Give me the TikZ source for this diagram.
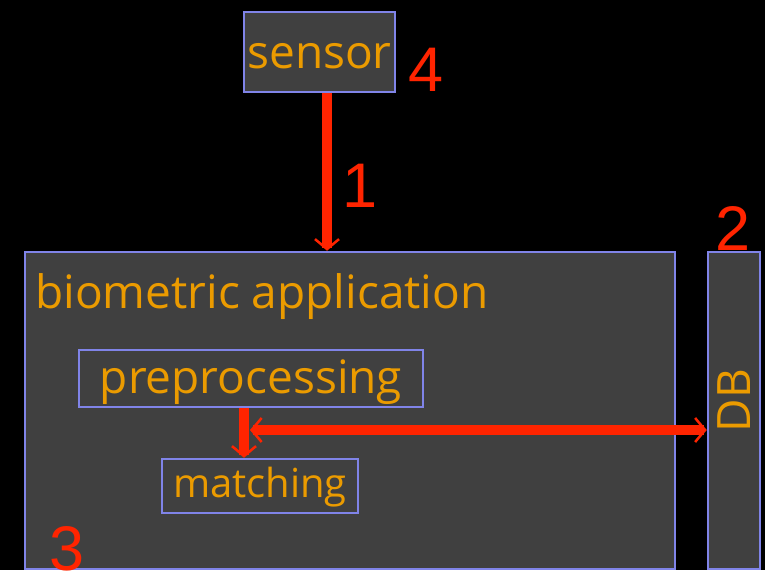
\documentclass[tikz,border=0pt]{standalone}
\usepackage{fontspec}
\setmainfont{Open Sans}
\newfontfamily\digitfont{Liberation Sans}
\usetikzlibrary{arrows.meta}

\definecolor{boxgray}{RGB}{64,64,64}
\definecolor{boxline}{RGB}{128,132,232}
\definecolor{txtorange}{RGB}{235,155,0}
\definecolor{flowred}{RGB}{255,36,0}

\tikzset{
    box/.style={draw=boxline, fill=boxgray, line width=2.5pt, text=txtorange, inner sep=0pt,
        font=\fontsize{46}{50}\selectfont, text height=37pt, text depth=8pt},
    title/.style={text=txtorange, inner sep=0pt, font=\fontsize{46}{50}\selectfont},
    flow/.style={draw=flowred, line width=10pt},
    barb/.tip={Straight Barb[length=10pt, width=24pt, line width=2.5pt]},
    num/.style={text=flowred, inner sep=0pt, font=\digitfont\fontsize{63}{66}\selectfont},
}

\begin{document}
\begin{tikzpicture}[x=1pt, y=-1pt]
    % --- sfondo nero ---
    \fill[black] (0,0) rectangle (765,570);
    \useasboundingbox (0,0) rectangle (765,570);

    % definizione dei blocchi
    \node[box, text height=40pt, minimum width=151pt, minimum height=80pt] (sensor) at (319.5,52) {sensor};
    \node[box, minimum width=650pt, minimum height=317pt] (app) at (350,410.5) {};
    \node[title, anchor=base west] (apptitle) at (35,308) {biometric application};
    \node[box, minimum width=344pt, minimum height=57pt] (prep) at (251,378.5) {preprocessing};
    \node[box, text height=30pt, minimum width=196pt, minimum height=54pt, font=\fontsize{40}{44}\selectfont] (match) at (260,486) {matching};
    \node[box, rotate=90, text height=40pt, minimum width=317pt, minimum height=52pt] (db) at (734,410.5) {\hspace{20pt}DB};

    % frecce dei flussi
    \draw[flow, -barb] ([xshift=7.5pt]sensor.south) -- ([xshift=7.5pt]sensor.south |- app.north);
    \draw[flow, -barb] ([xshift=-7pt]prep.south) -- ([xshift=-7pt]prep.south |- match.north);
    \coordinate (join) at ([xshift=-7pt]prep.south |- 0,430);
    \draw[flow, barb-barb] ([xshift=6pt]join) -- (join -| db.north);

    % numeri rossi
    \node[num] (n4) at (426,70) {4};
    \node[num] (n1) at (360,186) {1};
    \node[num] (n2) at (733,229) {2};
    \node[num] (n3) at (67,549) {3};
\end{tikzpicture}
\end{document}
